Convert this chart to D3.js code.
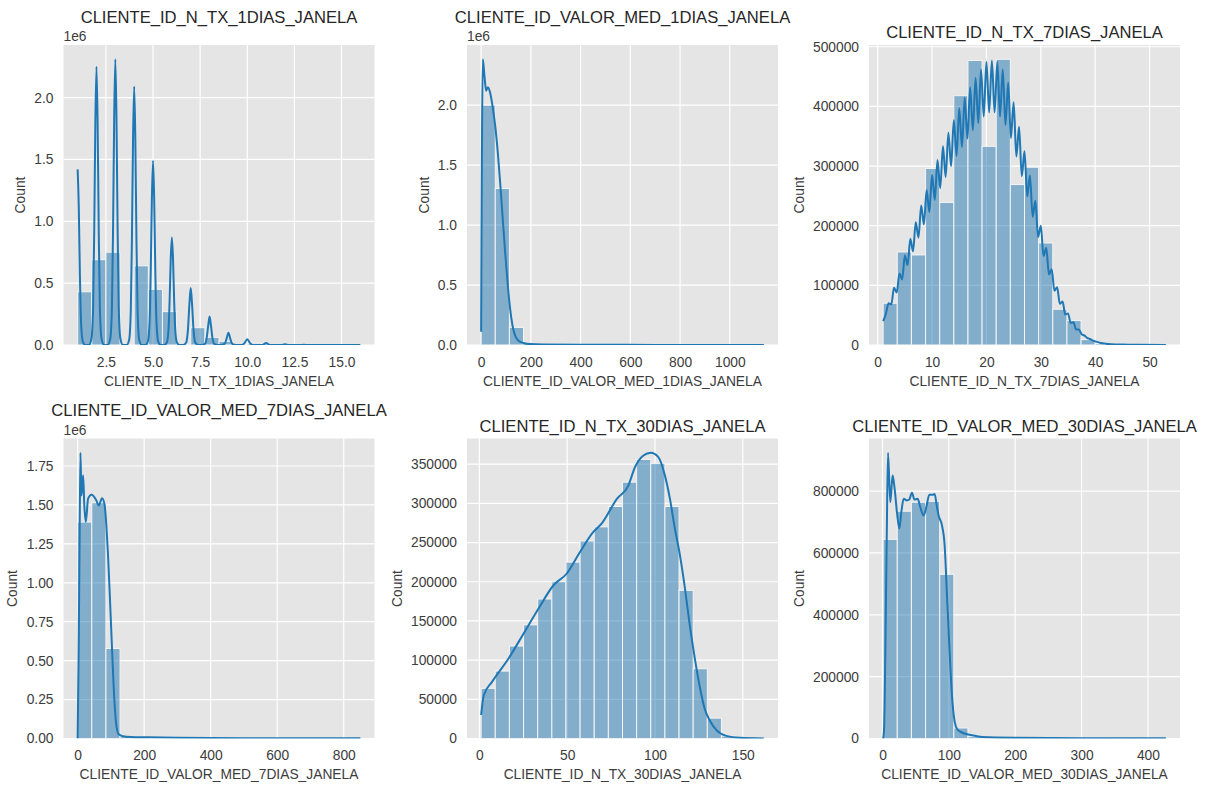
<!DOCTYPE html>
<html><head><meta charset="utf-8">
<script src="https://cdn.jsdelivr.net/npm/d3@7"></script>
<style>
html,body{margin:0;padding:0;background:#fff;}
svg{display:block;font-family:"Liberation Sans",Arial,Helvetica,sans-serif;}
</style></head><body>
<svg id="chart" width="1205" height="787"></svg>
<script>
// ---------- DATA ----------
const titles = [
  "CLIENTE_ID_N_TX_1DIAS_JANELA",
  "CLIENTE_ID_VALOR_MED_1DIAS_JANELA",
  "CLIENTE_ID_N_TX_7DIAS_JANELA",
  "CLIENTE_ID_VALOR_MED_7DIAS_JANELA",
  "CLIENTE_ID_N_TX_30DIAS_JANELA",
  "CLIENTE_ID_VALOR_MED_30DIAS_JANELA"
];
const yLabel = "Count";
const offsetTexts = ["1e6", "1e6", "", "1e6", "", ""];

// value ranges of each variable (min, max) -> 20 bins each
const p1Range = [1, 16];
const p2Range = [0, 1137];
const p3Range = [1, 53];
const p4Range = [0, 850];
const p5Range = [1, 162];
const p6Range = [1, 427];

// histogram counts (P1, P2, P4 in units of 1e6)
const p1Counts = [0.43,0.69,0.75,0,0.64,0.45,0.27,0,0.14,0.062,0.03,0,0.014,0.005,0.002,0,0.0007,0.0003,0.0002,0.0001];
const p2Counts = [2.0,1.305,0.147,0.006,0.0015,0.0007,0.0003,0.0002,0.0001,0.0001,0.0001,0,0,0,0,0,0,0,0,0.0001];
const p3Counts = [70000,156000,151000,296000,239000,418000,477000,333000,479000,269000,298000,171000,60000,41000,9000,2500,700,200,80,30];
const p4Counts = [1.39,1.514,0.578,0.012,0.003,0.0015,0.001,0.0007,0.0005,0.0003,0.0002,0.0002,0.0001,0.0001,0.0001,0.0001,0,0,0,0.0001];
const p5Counts = [64000,86000,118000,145000,178000,200000,225000,252000,270000,296000,327000,356000,351000,296000,189000,89000,26000,3000,500,100];
const p6Counts = [644000,735000,764000,767000,531000,34000,6000,3000,1500,1000,700,500,400,300,200,150,100,80,50,30];

// KDE curves: [x, y]
const p1Kde = [
 [1,1.42],[1.06,1.12],[1.12,0.57],[1.18,0.19],[1.27,0.03],[1.4,0],
 [1.6,0],[1.73,0.05],[1.82,0.30],[1.88,0.92],[1.94,1.80],[2,2.25],[2.06,1.80],[2.12,0.92],[2.18,0.30],[2.27,0.05],[2.4,0],
 [2.6,0],[2.73,0.05],[2.82,0.31],[2.88,0.95],[2.94,1.85],[3,2.31],[3.06,1.85],[3.12,0.95],[3.18,0.31],[3.27,0.05],[3.4,0],
 [3.6,0],[3.73,0.04],[3.82,0.28],[3.88,0.86],[3.94,1.67],[4,2.09],[4.06,1.67],[4.12,0.86],[4.18,0.28],[4.27,0.04],[4.4,0],
 [4.6,0],[4.73,0.03],[4.82,0.20],[4.88,0.61],[4.94,1.19],[5,1.49],[5.06,1.19],[5.12,0.61],[5.18,0.20],[5.27,0.03],[5.4,0],
 [5.6,0],[5.73,0.02],[5.82,0.12],[5.88,0.36],[5.94,0.70],[6,0.87],[6.06,0.70],[6.12,0.36],[6.18,0.12],[6.27,0.02],[6.4,0],
 [6.6,0],[6.76,0.02],[6.85,0.12],[6.93,0.33],[7,0.46],[7.07,0.33],[7.15,0.12],[7.24,0.02],[7.4,0],
 [7.6,0],[7.76,0.01],[7.85,0.06],[7.93,0.16],[8,0.23],[8.07,0.16],[8.15,0.06],[8.24,0.01],[8.4,0],
 [8.6,0],[8.8,0.01],[8.9,0.05],[9,0.10],[9.1,0.05],[9.2,0.01],[9.4,0],
 [9.7,0],[9.85,0.015],[10,0.046],[10.15,0.015],[10.3,0],
 [10.8,0],[11,0.016],[11.2,0],
 [11.8,0],[12,0.006],[12.2,0],
 [12.8,0],[13,0.002],[13.2,0],[16,0]
];
const p2Kde = [
 [0,0.111],[6.8,2.383],[13.5,2.24],[20,2.12],[27,2.15],[36,2.105],[45.7,1.994],[56.5,1.83],[67,1.605],
 [76.5,1.355],[86,1.078],[96.6,0.772],[107.4,0.494],[116.7,0.30],[126.3,0.161],[136.8,0.078],[150.4,0.036],
 [170.6,0.017],[197,0.008],[250,0.004],[400,0.002],[700,0.001],[1137,0]
];
const p3Kde = [
 [1,40000],[1.5,52000],[2,70000],[2.5,68000],[3,96000],[3.5,88000],[4,120000],[4.5,110000],[5,150000],[5.5,134000],
 [6,178000],[6.5,157000],[7,206000],[7.5,180000],[8,234000],[8.5,202000],[9,260000],[9.5,223000],[10,285000],[10.5,243000],
 [11,310000],[11.5,263000],[12,333000],[12.5,282000],[13,356000],[13.5,300000],[14,377000],[14.5,317000],[15,397000],[15.5,332000],
 [16,415000],[16.5,346000],[17,432000],[17.5,360000],[18,448000],[18.5,372000],[19,462000],[19.5,383000],[20,475000],[20.5,390000],
 [21,477000],[21.5,390000],[22,475000],[22.5,383000],[23,462000],[23.5,369000],[24,440000],[24.5,347000],[25,407000],[25.5,316000],
 [26,366000],[26.5,283000],[27,325000],[27.5,249000],[28,284000],[28.5,215000],[29,242000],[29.5,181000],[30,200000],[30.5,149000],
 [31,163000],[31.5,118000],[32,127000],[32.5,91000],[33,97000],[33.5,69000],[34,73000],[34.5,51000],[35,53000],[35.5,37000],
 [36,38000],[36.5,26000],[37,26000],[37.5,18000],[38,16000],[38.5,12000],[39,10000],[40,6000],[41,3500],[42,2200],
 [43,1400],[45,700],[48,300],[53,100]
];
const p4Kde = [
 [0,0],[3,0.55],[6,1.3],[8.5,1.835],[11.5,1.56],[16.5,1.69],[20,1.5],[24.5,1.39],[31.5,1.54],[41.5,1.565],
 [56,1.53],[63.5,1.497],[73.5,1.543],[81.3,1.497],[86.3,1.37],[91.3,1.18],[96.3,0.94],[101.3,0.685],[106.3,0.43],
 [111.3,0.215],[116.3,0.087],[123.3,0.027],[136,0.015],[160,0.010],[211,0.008],[300,0.005],[500,0.002],[850,0.001]
];
const p5Kde = [
 [1,30000],[2.5,55200],[7.2,72200],[16.6,102000],[25.2,134000],[33.7,165800],[42.2,195500],[49.8,210500],[57.3,238000],
 [64.9,263500],[69.6,274000],[78.4,306000],[84.7,322000],[88.6,346000],[93.4,361000],[97.6,364500],[101.9,359000],
 [105.6,336000],[108.5,306000],[111.3,268000],[114.2,234000],[117.1,191000],[119.8,144500],[122.7,102000],[125.5,66000],
 [128.3,38000],[131.2,23000],[135,10600],[140.6,3300],[148.2,800],[162,0]
];
const p6Kde = [
 [1,0],[2.3,27000],[6.3,625000],[8.3,924000],[11.8,764000],[15.3,851000],[18.3,808000],[21.8,732000],[25.4,679000],
 [28.4,732000],[31.9,775000],[36.9,770000],[40.4,773000],[44.5,795000],[48,773000],[53,775000],[57,748000],[62,721000],
 [66,748000],[70.6,788000],[75.6,788000],[78.6,791000],[82.1,748000],[84.6,721000],[89.7,689000],[93.7,624000],
 [97.2,463000],[100.7,301000],[104.7,140000],[108.8,54000],[112.7,30000],[119.8,19400],[134.9,10700],[150,5000],
 [200,2500],[300,1200],[427,500]
];

// tick values and labels
const p1XTicks = [2.5,5,7.5,10,12.5,15];
const p1XLabels = ["2.5","5.0","7.5","10.0","12.5","15.0"];
const p2XTicks = [0,200,400,600,800,1000];
const p3XTicks = [0,10,20,30,40,50];
const p4XTicks = [0,200,400,600,800];
const p5XTicks = [0,50,100,150];
const p6XTicks = [0,100,200,300,400];
const p1YTicks = [0,0.5,1,1.5,2];
const p1YLabels = ["0.0","0.5","1.0","1.5","2.0"];
const p2YTicks = [0,0.5,1,1.5,2];
const p2YLabels = ["0.0","0.5","1.0","1.5","2.0"];
const p3YTicks = [0,100000,200000,300000,400000,500000];
const p4YTicks = [0,0.25,0.5,0.75,1,1.25,1.5,1.75];
const p4YLabels = ["0.00","0.25","0.50","0.75","1.00","1.25","1.50","1.75"];
const p5YTicks = [0,50000,100000,150000,200000,250000,300000,350000];
const p6YTicks = [0,200000,400000,600000,800000];

// ---------- DRAW ----------
const panels = [
 {range:p1Range, counts:p1Counts, kde:p1Kde, xt:p1XTicks, xl:p1XLabels, yt:p1YTicks, yl:p1YLabels},
 {range:p2Range, counts:p2Counts, kde:p2Kde, xt:p2XTicks, xl:p2XTicks.map(String), yt:p2YTicks, yl:p2YLabels},
 {range:p3Range, counts:p3Counts, kde:p3Kde, xt:p3XTicks, xl:p3XTicks.map(String), yt:p3YTicks, yl:p3YTicks.map(String)},
 {range:p4Range, counts:p4Counts, kde:p4Kde, xt:p4XTicks, xl:p4XTicks.map(String), yt:p4YTicks, yl:p4YLabels},
 {range:p5Range, counts:p5Counts, kde:p5Kde, xt:p5XTicks, xl:p5XTicks.map(String), yt:p5YTicks, yl:p5YTicks.map(String)},
 {range:p6Range, counts:p6Counts, kde:p6Kde, xt:p6XTicks, xl:p6XTicks.map(String), yt:p6YTicks, yl:p6YTicks.map(String)}
];

const svg = d3.select("#chart");
const lefts = [63.5, 467, 869], tops = [45, 438.5], W = 311, H = 300;
const FS = 13.8, TFS = 16.6;
const textCol = "#3c3c3c", titleCol = "#262626";
const blue = "#1f77b4";

panels.forEach((p, i) => {
  const col = i % 3, row = Math.floor(i / 3);
  const g = svg.append("g").attr("transform", `translate(${lefts[col]},${tops[row]})`);
  const [lo, hi] = p.range, span = hi - lo, n = p.counts.length, bw = span / n;
  const x = d3.scaleLinear().domain([lo - 0.05 * span, hi + 0.05 * span]).range([0, W]);
  const ymax = Math.max(d3.max(p.counts), d3.max(p.kde, d => d[1]));
  const y = d3.scaleLinear().domain([0, ymax * 1.05]).range([H, 0]);

  g.append("defs").append("clipPath").attr("id", "clip" + i)
    .append("rect").attr("width", W).attr("height", H);

  g.append("rect").attr("width", W).attr("height", H).attr("fill", "#E5E5E5");

  // grid
  g.append("g").selectAll("line").data(p.xt).join("line")
    .attr("x1", d => x(d)).attr("x2", d => x(d)).attr("y1", 0).attr("y2", H)
    .attr("stroke", "#fff").attr("stroke-width", 1.2);
  g.append("g").selectAll("line").data(p.yt).join("line")
    .attr("y1", d => y(d)).attr("y2", d => y(d)).attr("x1", 0).attr("x2", W)
    .attr("stroke", "#fff").attr("stroke-width", 1.2);

  const plot = g.append("g").attr("clip-path", `url(#clip${i})`);
  // bars
  plot.append("g").selectAll("rect").data(p.counts.map((c, k) => ({c, k}))).join("rect")
    .attr("x", d => x(lo + d.k * bw))
    .attr("width", d => x(lo + (d.k + 1) * bw) - x(lo + d.k * bw))
    .attr("y", d => y(d.c))
    .attr("height", d => H - y(d.c))
    .attr("fill", blue).attr("fill-opacity", 0.5)
    .attr("stroke", "#f4f4f4").attr("stroke-width", d => (H - y(d.c)) > 0.8 ? 1 : 0);

  // kde line
  const line = d3.line().x(d => x(d[0])).y(d => y(d[1])).curve(d3.curveMonotoneX);
  plot.append("path").datum(p.kde).attr("d", line)
    .attr("fill", "none").attr("stroke", blue).attr("stroke-width", 2)
    .attr("stroke-linejoin", "round");

  // axes
  const xa = g.append("g").attr("transform", `translate(0,${H})`)
    .call(d3.axisBottom(x).tickValues(p.xt).tickFormat((d, k) => p.xl[k]).tickSize(0).tickPadding(12.2));
  const ya = g.append("g")
    .call(d3.axisLeft(y).tickValues(p.yt).tickFormat((d, k) => p.yl[k]).tickSize(0).tickPadding(10));
  [xa, ya].forEach(a => {
    a.select(".domain").remove();
    a.selectAll("text").attr("fill", textCol).style("font-size", FS + "px")
      .style("font-family", '"Liberation Sans",Arial,sans-serif');
  });

  const yb = ya.node().getBBox();
  g.append("text").attr("transform", `translate(${yb.x - 9.2},${H / 2}) rotate(-90)`)
    .attr("text-anchor", "middle").attr("fill", textCol).style("font-size", FS + "px")
    .text(yLabel);

  g.append("text").attr("x", W / 2).attr("y", H + 40.5).attr("text-anchor", "middle")
    .attr("fill", textCol).style("font-size", FS + "px").text(titles[i]);

  const off = offsetTexts[i];
  if (off) {
    g.append("text").attr("x", 0).attr("y", -4).attr("fill", textCol)
      .style("font-size", FS + "px").text(off);
  }
  g.append("text").attr("x", W / 2).attr("y", off ? -22.5 : -7).attr("text-anchor", "middle")
    .attr("fill", titleCol).style("font-size", TFS + "px").text(titles[i]);
});
</script>
</body></html>
